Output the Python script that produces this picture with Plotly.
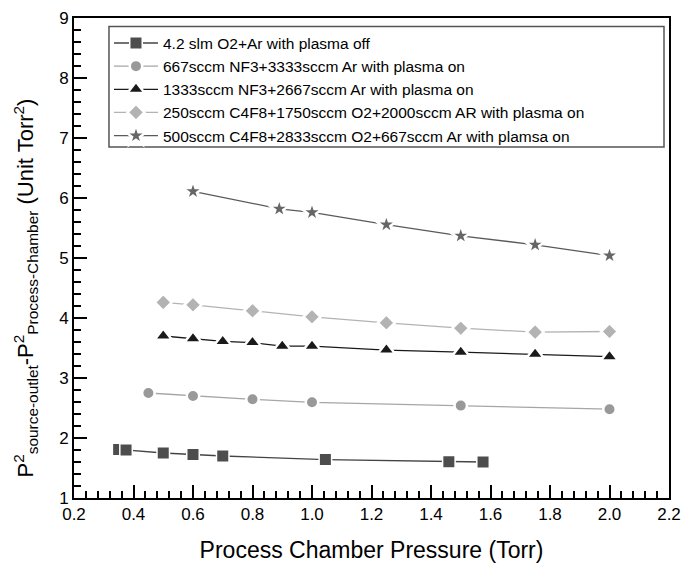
import plotly.graph_objects as go

names = [
    "4.2 slm O2+Ar with plasma off",
    "667sccm NF3+3333sccm Ar with plasma on",
    "1333sccm NF3+2667sccm Ar with plasma on",
    "250sccm C4F8+1750sccm O2+2000sccm AR with plasma on",
    "500sccm C4F8+2833sccm O2+667sccm Ar with plamsa on",
]

x1 = [0.35, 0.375, 0.50, 0.60, 0.70, 1.045, 1.46, 1.575]
y1 = [1.81, 1.80, 1.75, 1.725, 1.70, 1.64, 1.605, 1.60]

x2 = [0.45, 0.6, 0.8, 1.0, 1.5, 2.0]
y2 = [2.75, 2.70, 2.645, 2.595, 2.54, 2.48]

x3 = [0.5, 0.6, 0.7, 0.8, 0.9, 1.0, 1.25, 1.5, 1.75, 2.0]
y3 = [3.70, 3.655, 3.61, 3.59, 3.53, 3.53, 3.465, 3.43, 3.395, 3.355]

x4 = [0.5, 0.6, 0.8, 1.0, 1.25, 1.5, 1.75, 2.0]
y4 = [4.26, 4.22, 4.12, 4.02, 3.92, 3.83, 3.765, 3.775]

x5 = [0.6, 0.89, 1.0, 1.25, 1.5, 1.75, 2.0]
y5 = [6.11, 5.82, 5.76, 5.555, 5.37, 5.22, 5.04]

xs = [x1, x2, x3, x4, x5]
ys = [y1, y2, y3, y4, y5]
symbols = ["square", "circle", "triangle-up", "diamond", "star"]
mcolors = ["#4d4d4d", "#999999", "#1a1a1a", "#b3b3b3", "#666666"]
lcolors = ["#444444", "#a6a6a6", "#1a1a1a", "#b3b3b3", "#5a5a5a"]
msizes = [12.5, 12.5, 15, 13, 15.5]
mlinew = [1.5, 2.5, 2.5, 2.5, 2.5]

fig = go.Figure()
for i in range(5):
    fig.add_trace(go.Scatter(
        x=xs[i], y=ys[i], name=names[i], mode="lines+markers",
        line=dict(color=lcolors[i], width=1.3),
        marker=dict(symbol=symbols[i], size=msizes[i], color=mcolors[i],
                    line=dict(color="white", width=mlinew[i])),
    ))

font = "Liberation Sans, Arial, sans-serif"
axis_common = dict(
    showline=True, linewidth=2, linecolor="black", mirror=True,
    ticks="inside", ticklen=13, tickwidth=2, tickcolor="black",
    showgrid=False, zeroline=False, automargin=False,
    tickfont=dict(family=font, size=17, color="black"),
)

fig.update_xaxes(
    range=[0.2, 2.2], dtick=0.2, tickformat=".1f",
    minor=dict(ticks="inside", ticklen=7, tickwidth=2, dtick=0.04, tickcolor="black", showgrid=False),
    title=dict(text="Process Chamber Pressure (Torr)", font=dict(family=font, size=23, color="black"), standoff=18),
    **axis_common,
)
fig.update_yaxes(
    range=[1, 9], dtick=1,
    minor=dict(ticks="inside", ticklen=7, tickwidth=2, dtick=0.2, tickcolor="black", showgrid=False),
    **axis_common,
)

fig.add_annotation(
    text="P<sup>2</sup><sub>source-outlet</sub>-P<sup>2</sup><sub>Process-Chamber</sub> (Unit Torr<sup>2</sup>)",
    xref="paper", yref="paper", x=-0.082, y=0.437, textangle=-90,
    showarrow=False, xanchor="center", yanchor="middle",
    font=dict(family=font, size=22, color="black"),
)

fig.add_shape(type="rect", xref="paper", yref="paper",
              x0=0.0588, x1=0.9916, y0=0.7315, y1=0.9825,
              line=dict(color="#555555", width=1.5), fillcolor="rgba(0,0,0,0)")

fig.update_layout(
    width=684, height=567,
    margin=dict(l=74, r=15, t=18, b=69),
    plot_bgcolor="white", paper_bgcolor="white",
    showlegend=True,
    legend=dict(x=0.0588, y=0.9825, xanchor="left", yanchor="top",
                bgcolor="rgba(0,0,0,0)", borderwidth=0,
                font=dict(family=font, size=15.5, color="black"),
                itemwidth=44, tracegroupgap=0),
)

fig.write_html("out.html")
